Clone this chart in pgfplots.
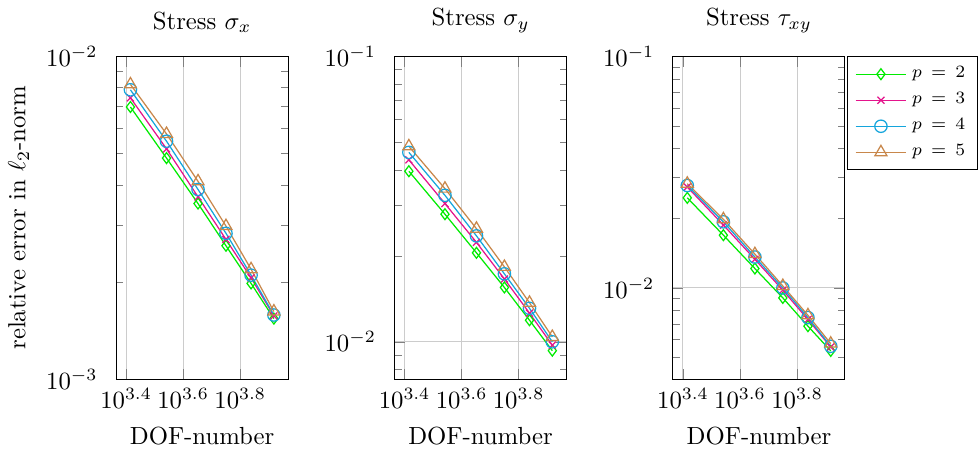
\documentclass[border=0pt]{standalone}
\usepackage{pgfplots}
\pgfplotsset{compat=1.18}
\usepgfplotslibrary{groupplots}
\definecolor{cA}{RGB}{0,235,0}
\definecolor{cB}{RGB}{228,20,140}
\definecolor{cC}{RGB}{20,165,220}
\definecolor{cD}{RGB}{200,135,75}
\pgfplotstableread{
x p2 p3 p4 p5
2601 0.00697 0.00744 0.00788 0.00819
3481 0.00484 0.00517 0.00546 0.00575
4489 0.00350 0.00367 0.00387 0.00410
5625 0.00259 0.00271 0.00283 0.00298
6889 0.00198 0.00206 0.00210 0.00219
8281 0.00154 0.00157 0.00158 0.00162
}\sx
\pgfplotstableread{
x p2 p3 p4 p5
2601 0.0396 0.0434 0.0461 0.0484
3481 0.0280 0.0305 0.0326 0.0344
4489 0.0205 0.0223 0.0235 0.0249
5625 0.0155 0.0166 0.0173 0.0183
6889 0.0119 0.0126 0.0131 0.0137
8281 0.00931 0.00973 0.0100 0.0104
}\sy
\pgfplotstableread{
x p2 p3 p4 p5
2601 0.0245 0.0273 0.0277 0.0282
3481 0.0169 0.0187 0.0193 0.0198
4489 0.01213 0.0133 0.0136 0.0140
5625 0.00906 0.00978 0.0100 0.0102
6889 0.00684 0.00731 0.00745 0.00762
8281 0.00535 0.00556 0.00560 0.00575
}\txy
\begin{document}
\begin{tikzpicture}
\begin{groupplot}[
  group style={group size=3 by 1, horizontal sep=43pt},
  xmode=log, ymode=log,
  scale only axis,
  width=69.5pt, height=130.4pt,
  enlargelimits=false,
  xmin=2317, xmax=9290,
  xtick={2511.886,3981.072,6309.573},
  xticklabels={$10^{3.4}$,$10^{3.6}$,$10^{3.8}$},
  grid=major,
  major grid style={gray!40},
  xlabel={DOF-number},
  xlabel style={yshift=-1pt},
  yticklabel style={xshift=-4pt},
  every axis plot/.append style={line width=0.5pt},
  legend style={font=\scriptsize, at={(1.012,1)}, anchor=north west, row sep=0.5pt},
  legend image code/.code={\draw[mark repeat=2,mark phase=2] plot coordinates {(0cm,0cm)(0.36cm,0cm)(0.72cm,0cm)};},
  legend cell align=left,
]
\nextgroupplot[title={Stress $\sigma_x$}, ymin=1e-3, ymax=1e-2,
  ytick={1e-3,1e-2},
  minor ytick={2e-3,3e-3,4e-3,5e-3,6e-3,7e-3,8e-3,9e-3},
  ylabel={relative error in $\ell_2$-norm}]
\addplot[cA, mark=diamond, mark size=2.2pt] table[x=x,y=p2] {\sx};
\addplot[cB, mark=x, mark size=2pt] table[x=x,y=p3] {\sx};
\addplot[cC, mark=o, mark size=2.5pt] table[x=x,y=p4] {\sx};
\addplot[cD, mark=triangle, mark size=2.8pt] table[x=x,y=p5] {\sx};
\nextgroupplot[title={Stress $\sigma_y$}, ymin=0.0074, ymax=0.1,
  ytick={1e-2,1e-1},
  minor ytick={8e-3,9e-3,2e-2,3e-2,4e-2,5e-2,6e-2,7e-2,8e-2,9e-2}]
\addplot[cA, mark=diamond, mark size=2.2pt] table[x=x,y=p2] {\sy};
\addplot[cB, mark=x, mark size=2pt] table[x=x,y=p3] {\sy};
\addplot[cC, mark=o, mark size=2.5pt] table[x=x,y=p4] {\sy};
\addplot[cD, mark=triangle, mark size=2.8pt] table[x=x,y=p5] {\sy};
\nextgroupplot[title={Stress $\tau_{xy}$}, ymin=0.00404, ymax=0.1,
  ytick={1e-2,1e-1},
  minor ytick={5e-3,6e-3,7e-3,8e-3,9e-3,2e-2,3e-2,4e-2,5e-2,6e-2,7e-2,8e-2,9e-2}]
\addplot[cA, mark=diamond, mark size=2.2pt] table[x=x,y=p2] {\txy};
\addlegendentry{$p\,=\,2$}
\addplot[cB, mark=x, mark size=2pt] table[x=x,y=p3] {\txy};
\addlegendentry{$p\,=\,3$}
\addplot[cC, mark=o, mark size=2.5pt] table[x=x,y=p4] {\txy};
\addlegendentry{$p\,=\,4$}
\addplot[cD, mark=triangle, mark size=2.8pt] table[x=x,y=p5] {\txy};
\addlegendentry{$p\,=\,5$}
\end{groupplot}
\end{tikzpicture}
\end{document}
